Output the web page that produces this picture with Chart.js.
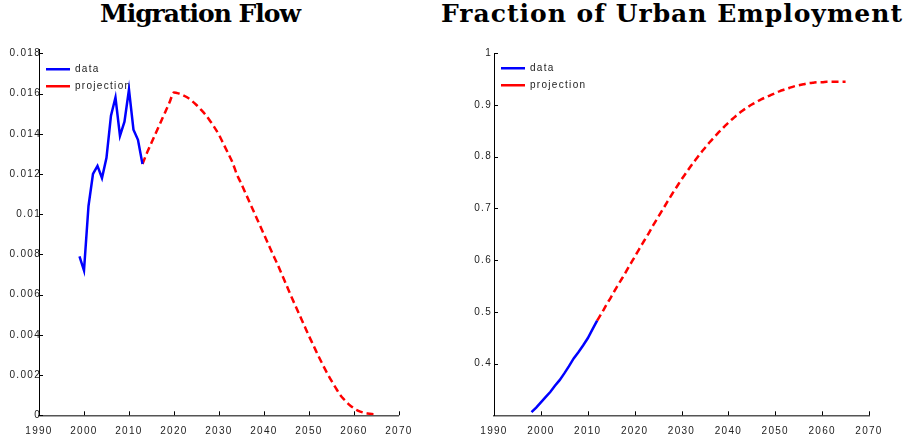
<!DOCTYPE html>
<html>
<head>
<meta charset="utf-8">
<script src="https://cdn.jsdelivr.net/npm/chart.js@4"></script>
<style>
  body { margin: 0; background: #fff; width: 909px; height: 438px; position: relative; overflow: hidden; }
  .title { position: absolute; top: 2px; line-height: 24px; text-align: center; font-family: "DejaVu Serif", serif; font-weight: bold; font-size: 25px; color: #000; white-space: nowrap; }
  #t1 { left: 0; width: 400px; letter-spacing: -1px; }
  #t2 { left: 422px; width: 500px; letter-spacing: 1px; }
  .box { position: absolute; top: 0; height: 438px; overflow: hidden; }
  #b1 { left: 0; width: 412px; }
  #b2 { left: 412px; width: 497px; }
</style>
</head>
<body>
<div class="title" id="t1">Migration Flow</div>
<div class="title" id="t2">Fraction of Urban Employment</div>
<div class="box" id="b1"><canvas id="c1" width="420" height="438"></canvas></div>
<div class="box" id="b2"><canvas id="c2" width="497" height="438"></canvas></div>
<script>
// tick values
const xTicks = [1990, 2000, 2010, 2020, 2030, 2040, 2050, 2060, 2070];
const migTicks = [0, 0.002, 0.004, 0.006, 0.008, 0.01, 0.012, 0.014, 0.016, 0.018];
const urbTicks = [0.4, 0.5, 0.6, 0.7, 0.8, 0.9, 1];

// migration flow
const migYears = [1999, 2000, 2001, 2002, 2003, 2004, 2005, 2006, 2007, 2008, 2009, 2010, 2011, 2012, 2013];
const migData = [0.0079, 0.0072, 0.0104, 0.0120, 0.0124, 0.0118, 0.0128, 0.0149, 0.0158, 0.0139, 0.0146, 0.0162, 0.0142, 0.0137, 0.0125];
const migProjYears = [2013, 2014, 2015, 2016, 2017, 2018, 2019, 2020, 2021, 2022, 2023, 2024, 2025, 2026, 2027,
    2028, 2029, 2030, 2031, 2032, 2033, 2034, 2035, 2036, 2037, 2038, 2039, 2040, 2041, 2042, 2043, 2044, 2045,
    2046, 2047, 2048, 2049, 2050, 2051, 2052, 2053, 2054, 2055, 2056, 2057, 2058, 2059, 2060, 2061, 2062, 2063, 2064, 2065];
const migProj = [0.0125, 0.01305, 0.01355, 0.01405, 0.01455, 0.01505, 0.01555, 0.01605, 0.01601, 0.01592, 0.0158,
    0.01563, 0.01543, 0.0152, 0.01495, 0.01465, 0.01432, 0.01395, 0.0135, 0.01305, 0.01258, 0.01197, 0.0115, 0.011,
    0.0105, 0.01, 0.0095, 0.009, 0.0085, 0.008, 0.00752, 0.007, 0.00648, 0.00595, 0.00545, 0.00495, 0.00445, 0.00395,
    0.00348, 0.003, 0.00255, 0.00212, 0.00172, 0.00135, 0.001, 0.00075, 0.00052, 0.00035, 0.00022, 0.00014, 0.00009,
    0.00006, 0.00005];

// urban employment share
const urbYears = [1998, 1999, 2000, 2001, 2002, 2003, 2004, 2005, 2006, 2007, 2008, 2009, 2010, 2011, 2012];
const urbData = [0.306, 0.315, 0.325, 0.335, 0.345, 0.357, 0.368, 0.381, 0.395, 0.410, 0.422, 0.435, 0.449, 0.466, 0.483];
const urbProjYears = [2012, 2013, 2014, 2015, 2016, 2017, 2018, 2019, 2020, 2021, 2022, 2023, 2024, 2025, 2026, 2027,
    2028, 2029, 2030, 2031, 2032, 2033, 2034, 2035, 2036, 2037, 2038, 2039, 2040, 2041, 2042, 2043, 2044, 2045,
    2046, 2047, 2048, 2049, 2050, 2051, 2052, 2053, 2054, 2055, 2056, 2057, 2058, 2059, 2060, 2061, 2062, 2063, 2064, 2065];
const urbProj = [0.483, 0.498, 0.514, 0.529, 0.545, 0.560, 0.575, 0.591, 0.606, 0.622, 0.637, 0.652, 0.668, 0.683,
    0.698, 0.713, 0.728, 0.742, 0.756, 0.769, 0.782, 0.794, 0.806, 0.817, 0.828, 0.838, 0.848, 0.857, 0.866, 0.874,
    0.882, 0.889, 0.895, 0.901, 0.906, 0.911, 0.915, 0.919, 0.923, 0.927, 0.930, 0.933, 0.936, 0.938, 0.940, 0.942,
    0.943, 0.944, 0.944, 0.945, 0.945, 0.945, 0.945, 0.945];

const tickFont = { family: '"Liberation Sans", Arial, sans-serif', size: 10 };

function points(xs, ys) {
    return xs.map((x, i) => ({ x: x, y: ys[i] }));
}

// matlab style ticks pointing into the plot
const inwardTicks = {
    id: 'inwardTicks',
    afterDatasetsDraw(chart) {
        const { ctx, chartArea: a, scales: { x, y } } = chart;
        ctx.save();
        ctx.strokeStyle = '#000';
        ctx.lineWidth = 1;
        ctx.beginPath();
        x.ticks.forEach(t => {
            const px = Math.round(x.getPixelForValue(t.value)) + 0.5;
            ctx.moveTo(px, a.bottom);
            ctx.lineTo(px, a.bottom - 4);
        });
        y.ticks.forEach(t => {
            const py = Math.round(y.getPixelForValue(t.value)) + 0.5;
            ctx.moveTo(a.left, py);
            ctx.lineTo(a.left + 4, py);
        });
        ctx.stroke();
        ctx.restore();
    }
};

const spacing = {
    id: 'spacing',
    beforeDraw(chart) { chart.ctx.letterSpacing = '1.3px'; }
};

// legend sits inside the axes, a little below the top
const legendShift = {
    id: 'legendShift',
    afterLayout(chart, args, opts) { chart.legend.top = chart.chartArea.top + (opts.dy || 0); }
};

function makeChart(id, cfg) {
    return new Chart(document.getElementById(id), {
        type: 'line',
        data: {
            datasets: [{
                label: 'data',
                data: cfg.data,
                borderColor: '#0000ff',
                borderWidth: 2.5,
                pointRadius: 0,
                tension: 0
            }, {
                label: 'projection',
                data: cfg.proj,
                borderColor: '#ff0000',
                borderWidth: 2.5,
                borderDash: [7, 4],
                pointRadius: 0,
                cubicInterpolationMode: 'monotone'
            }]
        },
        options: {
            responsive: false,
            animation: false,
            layout: { autoPadding: false, padding: cfg.padding },
            plugins: {
                title: { display: false },
                tooltip: { enabled: false },
                legend: {
                    position: 'chartArea',
                    align: 'start',
                    labels: {
                        usePointStyle: true,
                        pointStyle: 'line',
                        pointStyleWidth: 24,
                        padding: 7,
                        color: '#222',
                        font: tickFont
                    }
                },
                legendShift: { dy: cfg.legendDy }
            },
            scales: {
                x: {
                    type: 'linear',
                    min: 1990,
                    max: 2070,
                    afterBuildTicks: s => { s.ticks = xTicks.map(v => ({ value: v })); },
                    afterFit: s => { s.height = 22.7; },
                    grid: { display: false, drawTicks: false },
                    border: { display: true, color: '#555', width: 1.5 },
                    ticks: { font: tickFont, color: '#222', padding: 10, maxRotation: 0, autoSkip: false, callback: v => String(v) }
                },
                y: {
                    type: 'linear',
                    min: cfg.yMin,
                    max: cfg.yMax,
                    afterBuildTicks: s => { s.ticks = cfg.yTicks.map(v => ({ value: v })); },
                    afterFit: s => { s.width = cfg.yWidth; },
                    grid: { display: false, drawTicks: false },
                    border: { display: true, color: '#000', width: 1 },
                    ticks: { font: tickFont, color: '#222', padding: cfg.yPad, callback: v => String(Number(v.toFixed(3))) }
                }
            }
        },
        plugins: [inwardTicks, spacing, legendShift]
    });
}

// left canvas is wider than its box so the last x label gets cut like in the figure
makeChart('c1', {
    data: points(migYears, migData),
    proj: points(migProjYears, migProj),
    yMin: 0, yMax: 0.0182, yTicks: migTicks,
    yWidth: 39, yPad: -2,
    padding: { left: 0, right: 17, top: 49.3, bottom: 0 },
    legendDy: 8
});

makeChart('c2', {
    data: points(urbYears, urbData),
    proj: points(urbProjYears, urbProj),
    yMin: 0.3, yMax: 1, yTicks: urbTicks,
    yWidth: 82, yPad: 2,
    padding: { left: 0, right: 40, top: 53.3, bottom: 0 },
    legendDy: 3
});
</script>
</body>
</html>
